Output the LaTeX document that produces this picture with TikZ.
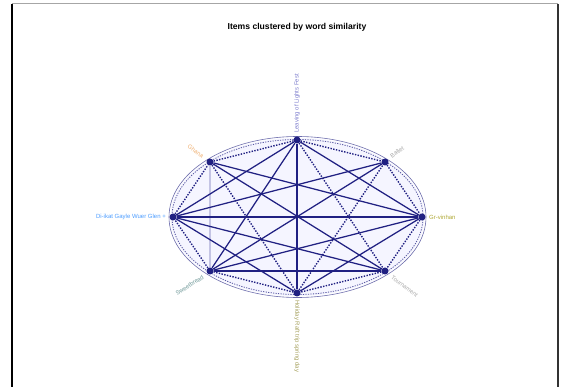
\documentclass[tikz,border=0pt]{standalone}
\usepackage{fontspec}
\setmainfont{Liberation Sans}
\begin{document}
\begin{tikzpicture}[x=1pt,y=-1pt,
  vert/.style={circle,fill=navy,inner sep=0pt,minimum size=7pt},
  solidedge/.style={draw=navy,line width=1.25pt},
  dotedge/.style={draw=navy,line width=1.4pt,dash pattern=on 1.4pt off 1.4pt},
  lightedge/.style={draw=lav,line width=2.4pt},
  lab/.style={font=\fontsize{6}{7}\selectfont,inner sep=1pt}]
\definecolor{navy}{RGB}{32,32,130}
\definecolor{lav}{RGB}{196,196,228}
\useasboundingbox (0,0) rectangle (568,387);
\fill[white] (0,0) rectangle (568,387);
% frame
\draw[gray!70,line width=1pt] (12,4) -- (558,4);
\draw[black,line width=2.2pt] (12,4) -- (12,387);
\draw[black!80,line width=1.2pt] (558,4) -- (558,387);
% title
\node (title) at (297,27) {\fontsize{8.6}{10}\selectfont\bfseries Items clustered by word similarity};
% background tint and ellipses
\fill[blue!4] (297.5,217) ellipse [x radius=127, y radius=79];
\draw[navy!65,line width=0.6pt] (297.5,217) ellipse [x radius=128.5, y radius=80.5];
\draw[navy!75,line width=0.8pt,dash pattern=on 1.2pt off 1.3pt] (297.5,217) ellipse [x radius=125.5, y radius=77.5];
% vertices
\node[vert] (t)  at (297,140) {};
\node[vert] (ul) at (210,162) {};
\node[vert] (ur) at (385,162) {};
\node[vert] (l)  at (173,217) {};
\node[vert] (r)  at (422,217) {};
\node[vert] (ll) at (210,271) {};
\node[vert] (lr) at (385,271) {};
\node[vert] (b)  at (297,293) {};
% edges
\draw[lightedge] (ul) -- (ll);
\foreach \a/\b in {t/ur,ur/r,r/lr,lr/b,b/ll,ll/l,l/ul,ul/t,t/lr,b/ul,b/ur}
  \draw[dotedge] (\a) -- (\b);
\foreach \a/\b in {t/r,t/l,b/l,b/r,ll/lr,t/b,l/r,t/ll,ur/l,ul/r,l/lr,r/ll,ul/lr,ur/ll}
  \draw[solidedge] (\a) -- (\b);
% labels
\node[lab,text=blue!45!gray!70,rotate=90,anchor=west] (lt) at (297,134) {Leaving of Lights Fest};
\node[lab,text=orange!60!brown!60,rotate=-35,anchor=east] (lul) at (204,157) {Ghana};
\node[lab,text=gray!70,rotate=35,anchor=west] (lur) at (390,157) {Ballet};
\node[lab,text=blue!55!cyan!70,anchor=east] (ll2) at (167,217) {Di-ikat Gayle Wuer Glen +};
\node[lab,text=olive!70,anchor=west] (lr2) at (428,217) {Gr-vinhan};
\node[lab,text=teal!40!gray!80,rotate=33,anchor=east] (lll) at (204,276) {Sweetbread};
\node[lab,text=gray!65,rotate=-37,anchor=west] (llr) at (391,276) {Tournament};
\node[lab,text=olive!55!gray!80,rotate=-90,anchor=west] (lb) at (297,299) {Holiday Raft trip spring day};
\end{tikzpicture}
\end{document}
